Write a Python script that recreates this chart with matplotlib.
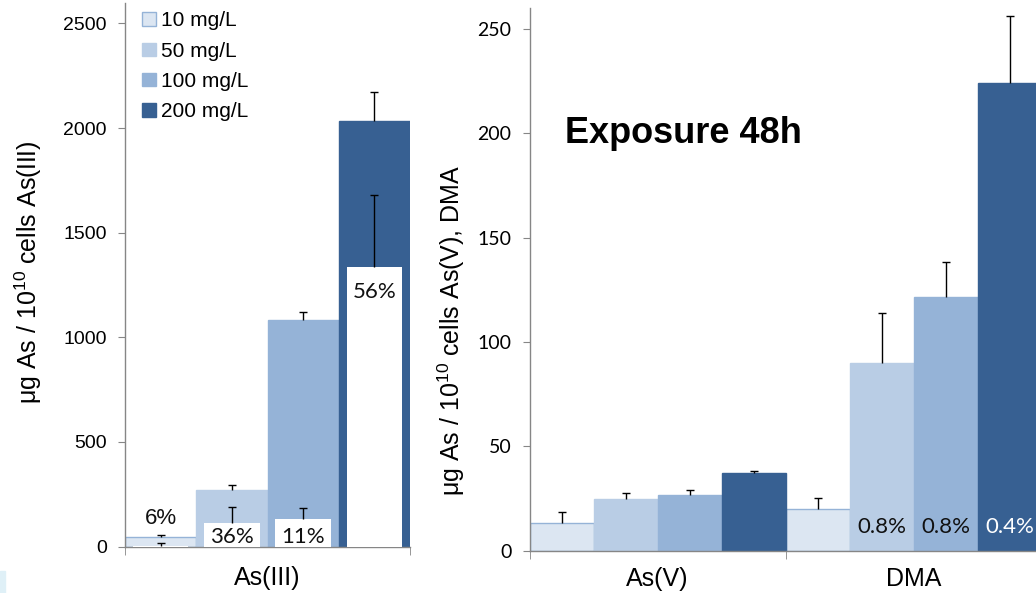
"""Arsenic species per 10^10 cells after 48h exposure, two panels."""
import matplotlib
matplotlib.use('Agg')
import matplotlib.pyplot as plt
from matplotlib.patches import Patch, Rectangle
import numpy as np

plt.rcParams['font.family'] = ['Liberation Sans', 'DejaVu Sans']
plt.rcParams['mathtext.fontset'] = 'custom'
plt.rcParams['mathtext.rm'] = 'Liberation Sans'
plt.rcParams['mathtext.it'] = 'Liberation Sans:italic'

# --- data -------------------------------------------------------------
doses = ['10 mg/L', '50 mg/L', '100 mg/L', '200 mg/L']

as3_total = [44, 270, 1082, 2033]
as3_total_err = [11, 24, 38, 137]
as3_inner = [3, 114, 131, 1336]
as3_inner_err = [12, 73, 53, 344]
as3_pct = ['6%', '36%', '11%', '56%']

right_categories = ['As(V)', 'DMA']
asv = [13.0, 24.5, 26.5, 37.2]
asv_err = [5.3, 2.9, 2.4, 0.9]
dma = [19.7, 89.9, 121.6, 224.1]
dma_err = [5.3, 24.0, 16.7, 32.1]
dma_pct = ['', '0.8%', '0.8%', '0.4%']

colors = ['#dce6f2', '#b9cde5', '#95b3d7', '#376092']
edge10 = '#95b3d7'
axis_grey = '#868686'
calibri_like = ['Lato', 'DejaVu Sans']

W, H = 1036, 593
fig = plt.figure(figsize=(W / 100, H / 100), dpi=100)

# light slide artefact bottom-left
fig.patches.append(Rectangle((0, 0), 5 / W, 22 / H, transform=fig.transFigure,
                             color='#dff0f7', zorder=0))

bar_w = 0.25
offsets = (np.arange(4) - 1.5) * bar_w


def up_errorbar(ax, x, y, e):
    _, caps, _ = ax.errorbar(x, y, yerr=[np.zeros(len(e)), e], fmt='none',
                             ecolor='black', elinewidth=1.0, capsize=3,
                             capthick=1.0, zorder=5)
    caps[0].set_visible(False)


def style_axes(ax, tick_size):
    ax.spines[['top', 'right']].set_visible(False)
    for s in ('left', 'bottom'):
        ax.spines[s].set_color(axis_grey)
        ax.spines[s].set_linewidth(1.0)
    ax.tick_params(axis='y', direction='out', length=5, color=axis_grey,
                   labelsize=tick_size, pad=8)
    ax.tick_params(axis='x', which='major', length=0, labelsize=18)
    ax.tick_params(axis='x', which='minor', direction='out', length=6,
                   color=axis_grey)


# --- left panel: As(III) ---------------------------------------------
axL = fig.add_axes([125 / W, 46.5 / H, 285 / W, 544 / H])
xs = 0 + offsets
for i in range(4):
    axL.bar(xs[i], as3_total[i], width=bar_w, color=colors[i],
            edgecolor=edge10 if i == 0 else colors[i], linewidth=1.0,
            zorder=2, label=doses[i])
axL.bar(xs, as3_inner, width=bar_w * 0.78, color='white', zorder=3)
up_errorbar(axL, xs, as3_total, as3_total_err)
up_errorbar(axL, xs, as3_inner, as3_inner_err)

for i in range(4):
    if as3_inner[i] < 30:
        y, fam = as3_total[i] + 90, ['Liberation Sans']
    elif as3_inner[i] < 400:
        y, fam = 45, calibri_like
    else:
        y, fam = as3_inner[i] - 121, calibri_like
    axL.text(xs[i], y, as3_pct[i], ha='center', va='center', fontsize=16,
             family=fam, color='#111111', zorder=6)

axL.set_xlim(-0.5, 0.5)
axL.set_ylim(0, 2600)
axL.set_yticks([0, 500, 1000, 1500, 2000, 2500])
axL.set_xticks([0])
axL.set_xticklabels(['As(III)'])
axL.set_xticks([-0.5, 0.5], minor=True)
style_axes(axL, 14)
axL.tick_params(axis='x', which='major', pad=14)
axL.set_ylabel(r'μg As / 10$^{10}$ cells As(III)', fontsize=18)
axL.yaxis.set_label_coords(-0.285, 0.505)

handles = [Patch(facecolor=colors[i], edgecolor=edge10 if i == 0 else colors[i],
                 label=doses[i]) for i in range(4)]
axL.legend(handles=handles, loc='upper left', bbox_to_anchor=(132 / W, 1 - 1 / H),
           bbox_transform=fig.transFigure, frameon=False, fontsize=15,
           handlelength=0.63, handleheight=0.63, handletextpad=0.25,
           labelspacing=0.54, borderpad=0)

# --- right panel: As(V), DMA ----------------------------------------
axR = fig.add_axes([529.5 / W, 42.5 / H, 512 / W, 542.5 / H])
for i in range(4):
    x = np.array([0, 1]) + offsets[i]
    axR.bar(x, [asv[i], dma[i]], width=bar_w, color=colors[i],
            edgecolor=edge10 if i == 0 else colors[i], linewidth=1.0, zorder=2)
    up_errorbar(axR, x, [asv[i], dma[i]], [asv_err[i], dma_err[i]])
    if dma_pct[i]:
        axR.text(1 + offsets[i], 11.3, dma_pct[i], ha='center', va='center',
                 fontsize=16, family=calibri_like,
                 color='white' if i == 3 else '#111111', zorder=6)

axR.set_xlim(-0.5, 1.5)
axR.set_ylim(0, 260)
axR.set_yticks([0, 50, 100, 150, 200, 250])
axR.set_xticks([0, 1])
axR.set_xticklabels(right_categories)
axR.set_xticks([-0.5, 0.5, 1.5], minor=True)
style_axes(axR, 14)
for lab in axR.get_yticklabels():
    lab.set_family(calibri_like)
axR.tick_params(axis='x', which='major', pad=12)
axR.set_ylabel(r'μg As / 10$^{10}$ cells As(V), DMA', fontsize=18)
axR.yaxis.set_label_coords(-0.122, 0.406)

fig.text(565 / W, 1 - 143 / H, 'Exposure 48h', fontsize=26, fontweight='bold',
         va='baseline', ha='left')

fig.savefig('out.png', dpi=100)
plt.close(fig)
